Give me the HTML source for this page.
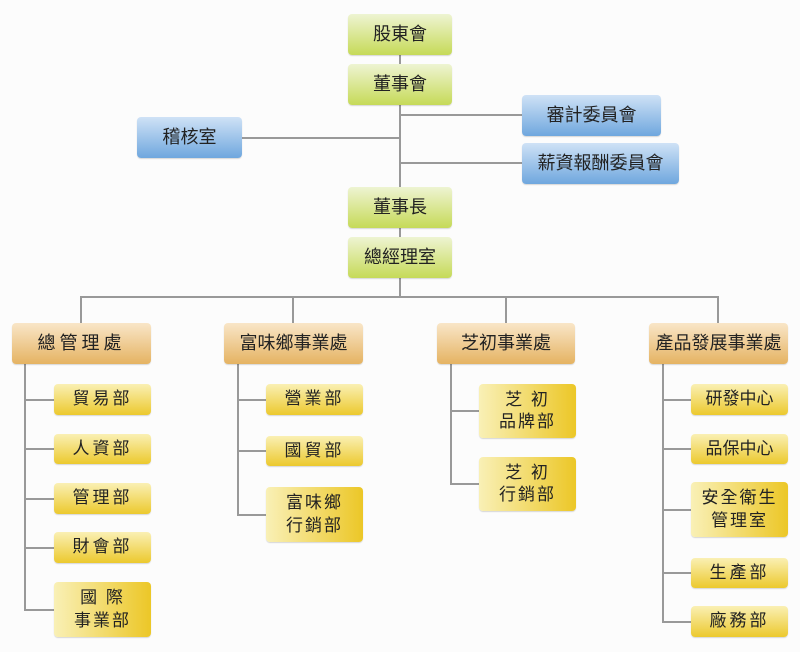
<!DOCTYPE html>
<html><head><meta charset="utf-8"><style>
body{margin:0;width:800px;height:652px;background:#fff;position:relative;overflow:hidden;font-family:"Liberation Sans","Noto Sans CJK TC",sans-serif;color:#222}
.b{position:absolute;border-radius:4px;display:flex;align-items:center;justify-content:center;text-align:center;box-sizing:border-box;line-height:1.3;box-shadow:0 1px 1px rgba(0,0,0,.15)}
.g{background:linear-gradient(#eef4d2,#c6da58);font-size:18px}
.bl{background:linear-gradient(#cfe2f6,#6fa7de);font-size:18px}
.o{background:linear-gradient(#f9e6c8,#e5b362);font-size:18px}
.y{background:linear-gradient(#faf0b4,#ecc92e);font-size:17px;letter-spacing:3px}
.y2{background:linear-gradient(90deg,#f9f0b6,#ecc727);font-size:17px;letter-spacing:2px}
.l{position:absolute;background:#999}
</style></head><body>
<div style="position:absolute;left:0;top:0;width:800px;height:652px;background:#fcfcfc"></div>
<div class="l" style="left:399px;top:55px;width:2px;height:183px"></div>
<div class="l" style="left:399px;top:228px;width:2px;height:70px"></div>
<div class="l" style="left:400px;top:114px;width:122px;height:2px"></div>
<div class="l" style="left:242px;top:137px;width:158px;height:2px"></div>
<div class="l" style="left:400px;top:162px;width:122px;height:2px"></div>
<div class="l" style="left:80px;top:296px;width:639px;height:2px"></div>
<div class="l" style="left:80px;top:296px;width:2px;height:28px"></div>
<div class="l" style="left:292px;top:296px;width:2px;height:28px"></div>
<div class="l" style="left:505px;top:296px;width:2px;height:28px"></div>
<div class="l" style="left:717px;top:296px;width:2px;height:28px"></div>
<div class="l" style="left:24px;top:364px;width:2px;height:247px"></div>
<div class="l" style="left:24px;top:399px;width:30px;height:2px"></div>
<div class="l" style="left:24px;top:448px;width:30px;height:2px"></div>
<div class="l" style="left:24px;top:498px;width:30px;height:2px"></div>
<div class="l" style="left:24px;top:547px;width:30px;height:2px"></div>
<div class="l" style="left:24px;top:609px;width:30px;height:2px"></div>
<div class="l" style="left:237px;top:364px;width:2px;height:152px"></div>
<div class="l" style="left:237px;top:399px;width:30px;height:2px"></div>
<div class="l" style="left:237px;top:450px;width:30px;height:2px"></div>
<div class="l" style="left:237px;top:514px;width:30px;height:2px"></div>
<div class="l" style="left:450px;top:364px;width:2px;height:121px"></div>
<div class="l" style="left:450px;top:410px;width:30px;height:2px"></div>
<div class="l" style="left:450px;top:483px;width:30px;height:2px"></div>
<div class="l" style="left:662px;top:364px;width:2px;height:259px"></div>
<div class="l" style="left:662px;top:399px;width:30px;height:2px"></div>
<div class="l" style="left:662px;top:448px;width:30px;height:2px"></div>
<div class="l" style="left:662px;top:509px;width:30px;height:2px"></div>
<div class="l" style="left:662px;top:572px;width:30px;height:2px"></div>
<div class="l" style="left:662px;top:621px;width:30px;height:2px"></div>
<div class="b g" style="left:348px;top:14px;width:104px;height:41px">股東會</div>
<div class="b g" style="left:348px;top:64px;width:104px;height:41px">董事會</div>
<div class="b bl" style="left:522px;top:95px;width:139px;height:41px">審計委員會</div>
<div class="b bl" style="left:522px;top:143px;width:157px;height:41px">薪資報酬委員會</div>
<div class="b bl" style="left:137px;top:117px;width:105px;height:41px">稽核室</div>
<div class="b g" style="left:348px;top:187px;width:104px;height:41px">董事長</div>
<div class="b g" style="left:348px;top:237px;width:104px;height:41px">總經理室</div>
<div class="b o" style="left:12px;top:323px;width:139px;height:41px;letter-spacing:4px">總管理處</div>
<div class="b o" style="left:224px;top:323px;width:139px;height:41px">富味鄉事業處</div>
<div class="b o" style="left:437px;top:323px;width:138px;height:41px">芝初事業處</div>
<div class="b o" style="left:649px;top:323px;width:139px;height:41px">產品發展事業處</div>
<div class="b y" style="left:54px;top:384px;width:97px;height:31px">貿易部</div>
<div class="b y" style="left:54px;top:434px;width:97px;height:30px">人資部</div>
<div class="b y" style="left:54px;top:483px;width:97px;height:31px">管理部</div>
<div class="b y" style="left:54px;top:532px;width:97px;height:31px">財會部</div>
<div class="b y2" style="left:54px;top:582px;width:97px;height:55px">國 際<br>事業部</div>
<div class="b y" style="left:266px;top:384px;width:97px;height:31px">營業部</div>
<div class="b y" style="left:266px;top:436px;width:97px;height:30px">國貿部</div>
<div class="b y2" style="left:266px;top:487px;width:97px;height:55px">富味鄉<br>行銷部</div>
<div class="b y2" style="left:479px;top:384px;width:97px;height:54px">芝 初<br>品牌部</div>
<div class="b y2" style="left:479px;top:457px;width:97px;height:54px">芝 初<br>行銷部</div>
<div class="b y" style="left:691px;top:384px;width:97px;height:31px;letter-spacing:0">研發中心</div>
<div class="b y" style="left:691px;top:434px;width:97px;height:30px;letter-spacing:0">品保中心</div>
<div class="b y2" style="left:691px;top:482px;width:97px;height:55px">安全衛生<br>管理室</div>
<div class="b y" style="left:691px;top:558px;width:97px;height:30px">生產部</div>
<div class="b y" style="left:691px;top:606px;width:97px;height:31px">廠務部</div>
</body></html>
